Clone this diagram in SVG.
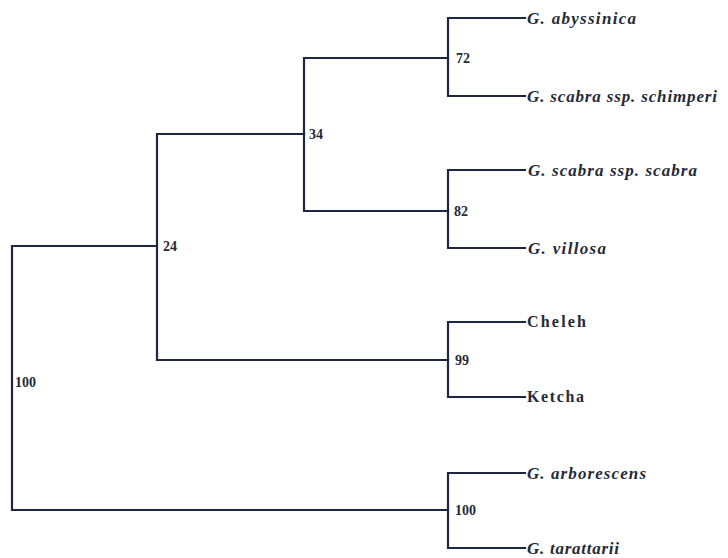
<svg xmlns="http://www.w3.org/2000/svg" width="728" height="558" viewBox="0 0 728 558">
<style>
.e{fill:none;stroke:#1e2740;stroke-width:2.2;stroke-linecap:square}
.sp{font-family:"Liberation Serif",serif;font-style:italic;font-weight:bold;font-size:17px;fill:#252a38}
.rm{font-family:"Liberation Serif",serif;font-weight:bold;font-size:16px;fill:#252a38}
.bs{font-family:"Liberation Serif",serif;font-weight:bold;font-size:14px;fill:#252a38}
</style>
<rect width="728" height="558" fill="#ffffff"/>
<g id="connectors">
<path class="e" d="M12,246 V510 M12,246 H157 M12,510 H448"/>
<path class="e" d="M157,134 V360 M157,134 H304 M157,360 H448"/>
<path class="e" d="M304,58 V211 M304,58 H448 M304,211 H448"/>
<path class="e" d="M448,18 V96 M448,18 H525 M448,96 H525"/>
<path class="e" d="M448,170 V248 M448,170 H525 M448,248 H525"/>
<path class="e" d="M448,322 V397 M448,322 H525 M448,397 H525"/>
<path class="e" d="M448,473 V548 M448,473 H525 M448,548 H525"/>
</g>
<g id="n-root"><text class="bs" x="15" y="387">100</text></g>
<g id="n-24"><text class="bs" x="163" y="251">24</text></g>
<g id="n-34"><text class="bs" x="309" y="139">34</text></g>
<g id="n-72"><text class="bs" x="456" y="63">72</text></g>
<g id="n-82"><text class="bs" x="454" y="216">82</text></g>
<g id="n-99"><text class="bs" x="455" y="365">99</text></g>
<g id="n-100b"><text class="bs" x="455" y="515">100</text></g>
<g id="leaf-abyssinica"><text class="sp" x="527" y="24" textLength="109">G. abyssinica</text></g>
<g id="leaf-schimperi"><text class="sp" x="527" y="102" textLength="190">G. scabra ssp. schimperi</text></g>
<g id="leaf-scabra"><text class="sp" x="528" y="176" textLength="169">G. scabra ssp. scabra</text></g>
<g id="leaf-villosa"><text class="sp" x="528" y="254" textLength="78">G. villosa</text></g>
<g id="leaf-cheleh"><text class="rm" x="527" y="327" textLength="59">Cheleh</text></g>
<g id="leaf-ketcha"><text class="rm" x="527" y="402" textLength="57">Ketcha</text></g>
<g id="leaf-arborescens"><text class="sp" x="527" y="479" textLength="119">G. arborescens</text></g>
<g id="leaf-tarattarii"><text class="sp" x="527" y="554" textLength="92">G. tarattarii</text></g>
</svg>
